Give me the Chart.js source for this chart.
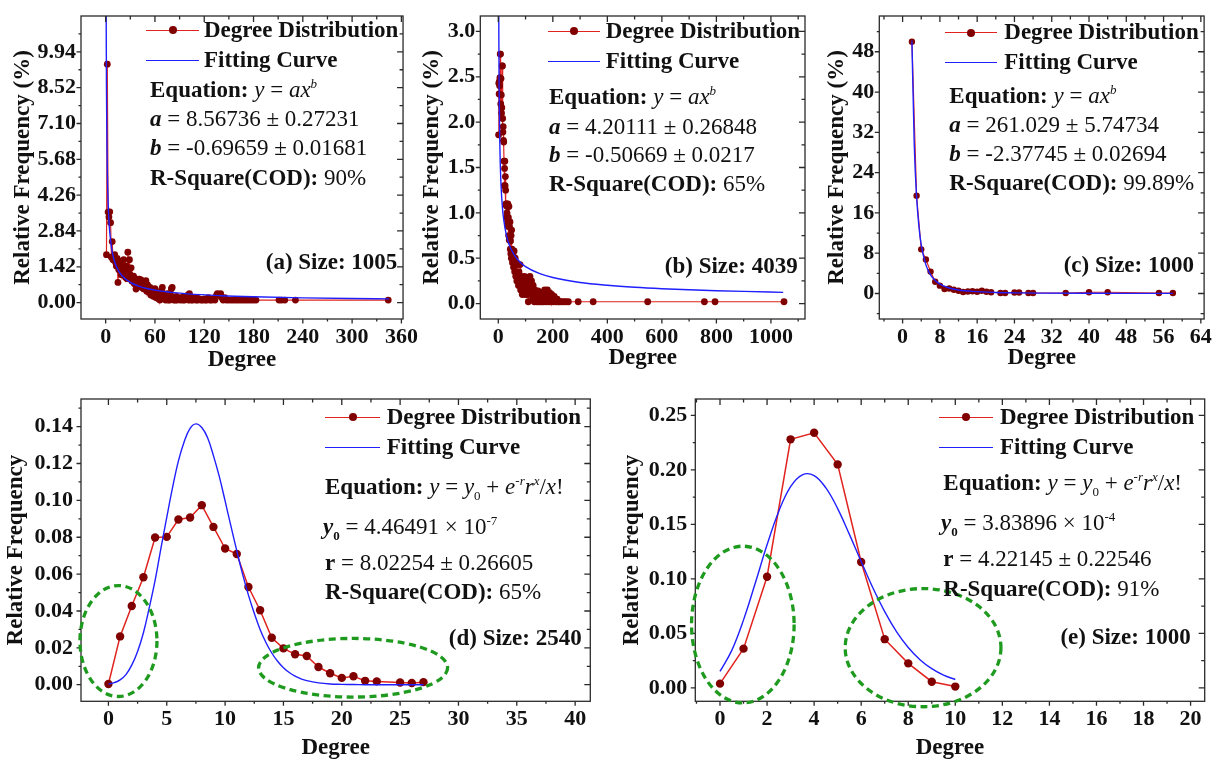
<!DOCTYPE html>
<html>
<head>
<meta charset="utf-8">
<script src="https://cdn.jsdelivr.net/npm/chart.js@4.4.1/dist/chart.umd.min.js"></script>
<style>
  body { margin: 0; background: #fff; width: 1219px; height: 761px; position: relative; overflow: hidden;
         font-family: 'Liberation Serif', 'Times New Roman', serif; color: #111; }
  canvas { position: absolute; }
  .t { position: absolute; font-size: 23px; line-height: 26px; white-space: nowrap; }
  .b { font-weight: bold; }
  .i { font-style: italic; }
  sup, sub { font-size: 13px; line-height: 0; }
  .ln { position: absolute; height: 0; border-top: 1.5px solid; }
  .ln.red { border-color: #e0231e; }
  .ln.blue { border-color: #1f1fff; }
  .ln.red::after { content: ''; position: absolute; left: 50%; top: -4.75px; width: 8px; height: 8px;
                   margin-left: -4px; border-radius: 50%; background: #800000; }
</style>
</head>
<body>
<canvas id="chartA" width="425" height="374" style="left:0;top:0"></canvas>
<canvas id="chartB" width="400" height="374" style="left:410px;top:0"></canvas>
<canvas id="chartC" width="404" height="374" style="left:815px;top:0"></canvas>
<canvas id="chartD" width="605" height="381" style="left:0;top:380px"></canvas>
<canvas id="chartE" width="609" height="381" style="left:610px;top:380px"></canvas>

<!-- (a) -->
<div class="ln red" style="left:146px;top:30px;width:53px"></div>
<div class="t b" style="left:204px;top:17px">Degree Distribution</div>
<div class="ln blue" style="left:146px;top:60px;width:53px"></div>
<div class="t b" style="left:204px;top:47px">Fitting Curve</div>
<div class="t" style="left:150px;top:77px"><span class="b">Equation:</span> <span class="i">y</span> = <span class="i">ax<sup>b</sup></span></div>
<div class="t" style="left:150px;top:106px"><span class="b i">a</span> = 8.56736 ± 0.27231</div>
<div class="t" style="left:150px;top:135px"><span class="b i">b</span> = -0.69659 ± 0.01681</div>
<div class="t" style="left:150px;top:165px"><span class="b">R-Square(COD):</span> 90%</div>
<div class="t b" style="right:821.7px;top:249px">(a) Size: 1005</div>

<!-- (b) -->
<div class="ln red" style="left:548px;top:30.7px;width:52px"></div>
<div class="t b" style="left:605.7px;top:17.7px">Degree Distribution</div>
<div class="ln blue" style="left:548px;top:60.7px;width:52px"></div>
<div class="t b" style="left:605.7px;top:47.7px">Fitting Curve</div>
<div class="t" style="left:549px;top:84.3px"><span class="b">Equation:</span> <span class="i">y</span> = <span class="i">ax<sup>b</sup></span></div>
<div class="t" style="left:549px;top:113.7px"><span class="b i">a</span> = 4.20111 ± 0.26848</div>
<div class="t" style="left:549px;top:142px"><span class="b i">b</span> = -0.50669 ± 0.0217</div>
<div class="t" style="left:549px;top:171.3px"><span class="b">R-Square(COD):</span> 65%</div>
<div class="t b" style="right:421.3px;top:253px">(b) Size: 4039</div>

<!-- (c) -->
<div class="ln red" style="left:945px;top:32.3px;width:52px"></div>
<div class="t b" style="left:1004.3px;top:19.3px">Degree Distribution</div>
<div class="ln blue" style="left:945px;top:61.7px;width:52px"></div>
<div class="t b" style="left:1004.3px;top:48.7px">Fitting Curve</div>
<div class="t" style="left:949.3px;top:82.7px"><span class="b">Equation:</span> <span class="i">y</span> = <span class="i">ax<sup>b</sup></span></div>
<div class="t" style="left:949.3px;top:112px"><span class="b i">a</span> = 261.029 ± 5.74734</div>
<div class="t" style="left:949.3px;top:141px"><span class="b i">b</span> = -2.37745 ± 0.02694</div>
<div class="t" style="left:949.3px;top:170.3px"><span class="b">R-Square(COD):</span> 99.89%</div>
<div class="t b" style="right:25px;top:252px">(c) Size: 1000</div>

<!-- (d) -->
<div class="ln red" style="left:325px;top:416.7px;width:55px"></div>
<div class="t b" style="left:386.7px;top:403.7px">Degree Distribution</div>
<div class="ln blue" style="left:325px;top:446.7px;width:55px"></div>
<div class="t b" style="left:386.7px;top:433.7px">Fitting Curve</div>
<div class="t" style="left:325px;top:473.7px"><span class="b">Equation:</span> <span class="i">y</span> = <span class="i">y</span><sub>0</sub> + <span class="i">e<sup>-r</sup>r<sup>x</sup></span>/<span class="i">x</span>!</div>
<div class="t" style="left:323px;top:513.7px"><span class="b i">y</span><sub class="b">0</sub> = 4.46491 × 10<sup>-7</sup></div>
<div class="t" style="left:325px;top:549.7px"><span class="b">r</span> = 8.02254 ± 0.26605</div>
<div class="t" style="left:325px;top:578.7px"><span class="b">R-Square(COD):</span> 65%</div>
<div class="t b" style="right:637.3px;top:625.3px">(d) Size: 2540</div>

<!-- (e) -->
<div class="ln red" style="left:939px;top:416.7px;width:54px"></div>
<div class="t b" style="left:1000px;top:403.7px">Degree Distribution</div>
<div class="ln blue" style="left:939px;top:446.7px;width:54px"></div>
<div class="t b" style="left:1000px;top:433.7px">Fitting Curve</div>
<div class="t" style="left:943.3px;top:470.3px"><span class="b">Equation:</span> <span class="i">y</span> = <span class="i">y</span><sub>0</sub> + <span class="i">e<sup>-r</sup>r<sup>x</sup></span>/<span class="i">x</span>!</div>
<div class="t" style="left:941px;top:510.3px"><span class="b i">y</span><sub class="b">0</sub> = 3.83896 × 10<sup>-4</sup></div>
<div class="t" style="left:943.3px;top:546.3px"><span class="b">r</span> = 4.22145 ± 0.22546</div>
<div class="t" style="left:943.3px;top:576.3px"><span class="b">R-Square(COD):</span> 91%</div>
<div class="t b" style="right:28.3px;top:624.3px">(e) Size: 1000</div>

<script>
// ---- (a) Size 1005 ----
const aDegree = [1,2,3,4,5,6,7,8,9,10,11,12,13,14,15,16,17,18,19,20,21,22,23,24,25,26,27,28,29,30,
  31,32,33,34,35,36,37,38,39,40,41,42,43,44,45,46,47,48,49,50,51,52,53,54,55,56,57,58,59,60,
  61,62,63,64,65,66,67,68,69,70,71,72,73,74,75,76,77,78,79,80,81,82,83,84,85,86,87,88,90,91,
  92,94,95,96,98,100,101,102,104,105,106,108,110,111,112,114,116,118,120,121,123,125,127,129,131,133,
  135,136,138,140,141,143,145,147,150,153,156,159,162,165,168,171,174,177,180,183,211,214,218,231,344];
const aFreq = [1.90,9.45,3.59,3.39,3.60,3.17,1.80,2.42,1.70,1.85,1.90,1.60,1.45,1.75,0.80,1.30,1.64,1.35,1.10,1.55,
  1.20,1.70,1.25,1.00,1.45,0.95,2.00,1.30,1.70,1.10,1.38,0.85,1.00,1.05,0.75,0.95,0.54,0.85,0.90,0.65,
  0.93,0.75,0.90,0.60,0.85,0.55,0.75,0.62,0.87,0.45,0.70,0.50,0.40,0.60,0.30,0.50,0.40,0.25,0.45,0.55,
  0.20,0.35,0.40,0.15,0.30,0.10,0.25,0.50,0.60,0.15,0.30,0.20,0.10,0.25,0.35,0.10,0.20,0.10,0.30,0.55,
  0.60,0.15,0.10,0.20,0.10,0.25,0.10,0.20,0.15,0.10,0.20,0.10,0.25,0.10,0.15,0.30,0.10,0.35,0.10,0.20,
  0.10,0.15,0.10,0.20,0.10,0.15,0.10,0.10,0.15,0.10,0.10,0.20,0.10,0.10,0.15,0.10,0.30,0.35,0.30,0.35,
  0.20,0.10,0.20,0.10,0.10,0.10,0.10,0.10,0.10,0.10,0.10,0.10,0.10,0.10,0.10,0.10,0.10,0.10,0.10,0.10,0.10];
const aFitX = [0.5,0.7,1,1.5,2,3,4,5,7,10,15,20,30,40,50,70,100,140,180,240,300,345];
const aFitY = [13.9,10.98,8.57,6.46,5.29,3.98,3.26,2.79,2.21,1.72,1.30,1.063,0.80,0.656,0.561,0.444,0.346,0.274,0.230,0.188,0.161,0.146];
const aXTicks = [0,60,120,180,240,300,360];
const aYTicks = [0,1.42,2.84,4.26,5.68,7.10,8.52,9.94];
const aYLabels = ['0.00','1.42','2.84','4.26','5.68','7.10','8.52','9.94'];

// ---- (b) Size 4039 ----
const bDegree = [1,2,3,4,5,6,7,8,9,10,11,12,13,14,15,16,17,18,19,20,21,22,23,24,25,26,27,28,29,30,
  31,32,33,34,35,36,37,38,39,40,41,42,43,44,45,46,47,48,49,50,52,54,56,58,60,62,64,66,68,70,
  72,74,76,78,80,82,84,86,88,90,92,94,96,98,100,102,104,106,108,110,112,114,116,118,120,122,124,126,128,130,
  132,134,136,138,140,142,144,146,148,150,152,154,156,158,160,162,164,166,168,170,172,174,176,178,180,182,184,186,188,190,
  193,196,199,202,205,208,212,216,220,225,232,240,248,257,293,348,548,756,795,1048];
const bFreq = [1.86,2.43,2.31,2.45,2.40,2.49,2.75,2.75,2.20,2.48,2.30,2.10,2.16,2.62,2.62,2.04,1.89,1.95,1.80,1.78,
  1.57,1.30,1.49,1.57,1.30,1.40,1.25,1.10,1.08,0.95,1.10,1.00,1.07,0.90,1.10,0.85,0.95,0.75,1.07,0.70,
  0.85,0.72,0.90,0.60,0.69,0.55,0.75,0.50,0.81,0.60,0.45,0.55,0.40,0.58,0.35,0.50,0.30,0.45,0.25,0.43,
  0.30,0.20,0.35,0.25,0.43,0.15,0.30,0.20,0.10,0.25,0.15,0.22,0.30,0.10,0.20,0.25,0.15,0.10,0.20,0.02,
  0.15,0.29,0.30,0.20,0.10,0.25,0.15,0.05,0.20,0.10,0.02,0.15,0.08,0.12,0.02,0.10,0.05,0.14,0.02,0.08,
  0.12,0.02,0.10,0.05,0.02,0.12,0.06,0.02,0.10,0.15,0.05,0.12,0.02,0.08,0.15,0.05,0.10,0.02,0.12,0.06,
  0.02,0.10,0.05,0.02,0.08,0.05,0.02,0.05,0.02,0.02,0.02,0.02,0.02,0.02,0.02,0.02,0.02,0.02,0.02,0.02];
const bFitX = [1.5,2,3,5,7,10,15,20,30,40,60,80,100,150,200,300,400,500,600,700,800,900,1045];
const bFitY = [3.42,2.957,2.407,1.859,1.567,1.308,1.065,0.921,0.750,0.648,0.528,0.456,0.407,0.332,0.287,0.233,0.202,0.180,0.164,0.152,0.142,0.134,0.124];
const bXTicks = [0,200,400,600,800,1000];
const bYTicks = [0,0.5,1.0,1.5,2.0,2.5,3.0];
const bYLabels = ['0.0','0.5','1.0','1.5','2.0','2.5','3.0'];

// ---- (c) Size 1000 ----
const cDegree = [2,3,4,5,6,7,8,9,10,11,12,13,14,15,16,17,18,19,21,22,24,25,27,28,35,40,44,55,58];
const cFreq = [50.0,19.4,8.77,6.75,4.35,2.34,1.56,0.90,1.00,0.75,0.55,0.30,0.40,0.45,0.35,0.55,0.35,0.25,
  0.10,0.10,0.20,0.20,0.10,0.10,0.10,0.25,0.25,0.10,0.10];
const cFitX = [2,2.5,3,3.5,4,5,6,7,8,10,12,15,20,25,30,40,50,58];
const cFitY = [50.2,29.6,19.2,13.3,9.67,5.69,3.69,2.56,1.86,1.10,0.71,0.42,0.21,0.12,0.08,0.04,0.02,0.02];
const cXTicks = [0,8,16,24,32,40,48,56,64];
const cYTicks = [0,8,16,24,32,40,48];
const cYLabels = ['0','8','16','24','32','40','48'];

// ---- (d) Size 2540 ----
const dDegree = [0,1,2,3,4,5,6,7,8,9,10,11,12,13,14,15,16,17,18,19,20,21,22,23,25,26,27];
const dFreq = [0.0004,0.0262,0.0427,0.0583,0.0799,0.0802,0.0896,0.0907,0.0974,0.0856,0.0739,0.0709,0.0530,
  0.0404,0.0255,0.0197,0.0165,0.0156,0.0096,0.0062,0.0037,0.0046,0.0021,0.0018,0.0012,0.0009,0.0014];
const dFitX = [0,0.5,1,1.5,2,2.5,3,3.5,4,4.5,5,5.5,6,6.5,7,7.5,8,8.5,9,9.5,10,10.5,11,11.5,12,12.5,13,13.5,
  14,14.5,15,15.5,16,16.5,17,18,19,20,21,22,23,24,25,26,27];
const dFitY = [0.0003,0.0011,0.0026,0.0055,0.0106,0.0180,0.0282,0.0418,0.0566,0.0740,0.0908,0.1070,0.1214,0.1320,
  0.1391,0.1415,0.1395,0.1340,0.1243,0.1130,0.0997,0.0860,0.0727,0.0600,0.0486,0.0388,0.0300,0.0229,
  0.0172,0.0127,0.0092,0.0066,0.0046,0.0032,0.0022,0.0010,0.0004,0.0002,0.0001,0,0,0,0,0,0];
const dXTicks = [0,5,10,15,20,25,30,35,40];
const dYTicks = [0,0.02,0.04,0.06,0.08,0.10,0.12,0.14];
const dYLabels = ['0.00','0.02','0.04','0.06','0.08','0.10','0.12','0.14'];

// ---- (e) Size 1000 ----
const eDegree = [0,1,2,3,4,5,6,7,8,9,10];
const eFreq = [0.0039,0.036,0.102,0.228,0.234,0.205,0.1155,0.0447,0.0225,0.0057,0.0012];
const eFitX = [0,0.5,1,1.5,2,2.5,3,3.5,4,4.5,5,5.5,6,6.5,7,7.5,8,8.5,9,9.5,10];
const eFitY = [0.0151,0.0344,0.0624,0.0962,0.1313,0.1621,0.1846,0.1955,0.1948,0.1834,0.1645,0.1408,0.1159,
  0.0916,0.0700,0.0517,0.0371,0.0259,0.0176,0.0117,0.0077];
const eXTicks = [0,2,4,6,8,10,12,14,16,18,20];
const eYTicks = [0,0.05,0.10,0.15,0.20,0.25];
const eYLabels = ['0.00','0.05','0.10','0.15','0.20','0.25'];

// dashed green ellipses, in data units
const dEllipses = [{ cx: 0.86, cy: 0.0237, rx: 3.3, ry: 0.0301 }, { cx: 20.97, cy: 0.0092, rx: 8.1, ry: 0.0159 }];
const eEllipses = [{ cx: 0.97, cy: 0.0581, rx: 2.18, ry: 0.0719 }, { cx: 8.63, cy: 0.0369, rx: 3.31, ry: 0.0542 }];

const FONT = "'Liberation Serif', 'Times New Roman', serif";

// frame box, major/minor ticks on all four sides, ellipses
const frameTicks = {
  id: 'frameTicks',
  afterDraw(chart, args, opts) {
    const { ctx, chartArea: ca, scales: { x, y } } = chart;
    ctx.save();
    ctx.strokeStyle = '#2a2a2a';
    ctx.lineWidth = 1.3;
    ctx.strokeRect(ca.left, ca.top, ca.right - ca.left, ca.bottom - ca.top);

    const marks = (scale, ticks) => {
      const half = (ticks[1] - ticks[0]) / 2;
      const out = [];
      const k0 = Math.ceil(scale.min / half - 1e-6), k1 = Math.floor(scale.max / half + 1e-6);
      for (let k = k0; k <= k1; k++) out.push({ px: scale.getPixelForValue(k * half), major: k % 2 === 0 });
      return out;
    };
    ctx.beginPath();
    marks(x, opts.xTicks).forEach(m => {
      if (m.px < ca.left + 1 || m.px > ca.right - 1) return;
      const o = m.major ? 4.5 : 2.5, inn = m.major ? 6 : 3.5;
      ctx.moveTo(m.px, ca.bottom); ctx.lineTo(m.px, ca.bottom + o);
      ctx.moveTo(m.px, ca.top); ctx.lineTo(m.px, ca.top + inn);
    });
    marks(y, opts.yTicks).forEach(m => {
      if (m.px < ca.top + 1 || m.px > ca.bottom - 1) return;
      const o = m.major ? 4.5 : 2.5, inn = m.major ? 6 : 3.5;
      ctx.moveTo(ca.left, m.px); ctx.lineTo(ca.left - o, m.px);
      ctx.moveTo(ca.right, m.px); ctx.lineTo(ca.right - inn, m.px);
    });
    ctx.stroke();

    (opts.ellipses || []).forEach(e => {
      const cx = x.getPixelForValue(e.cx), cy = y.getPixelForValue(e.cy);
      const rx = Math.abs(x.getPixelForValue(e.cx + e.rx) - cx);
      const ry = Math.abs(y.getPixelForValue(e.cy + e.ry) - cy);
      ctx.beginPath();
      ctx.setLineDash([7, 4.5]);
      ctx.lineWidth = 3.3;
      ctx.strokeStyle = '#1e9a1e';
      ctx.ellipse(cx, cy, rx, ry, 0, 0, Math.PI * 2);
      ctx.stroke();
    });
    ctx.restore();
  }
};

function buildChart(id, o) {
  const pts = (xs, ys) => xs.map((v, i) => ({ x: v, y: ys[i] }));
  const fit = {
    data: pts(o.fitX, o.fitY),
    showLine: true,
    borderColor: '#1f1fff',
    borderWidth: 1.4,
    pointRadius: 0
  };
  // power-law fits keep monotone; the bell-shaped fits use a plain spline so the peak stays round
  if (o.bell) fit.tension = 0.4; else fit.cubicInterpolationMode = 'monotone';
  return new Chart(document.getElementById(id), {
    type: 'scatter',
    data: {
      datasets: [
        fit,
        {
          data: pts(o.degree, o.freq),
          showLine: true,
          borderColor: '#e0231e',
          borderWidth: o.lineW,
          pointRadius: o.dotR,
          pointBackgroundColor: '#800000',
          pointBorderWidth: 0
        }
      ]
    },
    options: {
      responsive: false,
      animation: false,
      layout: { padding: { left: 0, top: o.padTop, right: o.padRight, bottom: 0 } },
      plugins: {
        legend: { display: false },
        tooltip: { enabled: false },
        frameTicks: { xTicks: o.xTicks, yTicks: o.yTicks, ellipses: o.ellipses }
      },
      scales: {
        x: {
          type: 'linear',
          min: o.xMin,
          max: o.xMax,
          afterBuildTicks: s => { s.ticks = o.xTicks.map(v => ({ value: v })); },
          afterFit: s => { s.height = o.xH; },
          ticks: {
            autoSkip: false, maxRotation: 0, padding: 7, color: '#111',
            font: { family: FONT, size: 22, weight: 'bold', lineHeight: 1 },
            callback: v => String(v)
          },
          grid: { display: false, drawTicks: false },
          border: { display: false },
          title: {
            display: true, text: 'Degree', color: '#111',
            font: { family: FONT, size: 23, weight: 'bold', lineHeight: 1 },
            padding: { top: 0, bottom: o.xTitlePad }
          }
        },
        y: {
          type: 'linear',
          min: o.yMin,
          max: o.yMax,
          afterBuildTicks: s => { s.ticks = o.yTicks.map(v => ({ value: v })); },
          afterFit: s => { s.width = o.yW; },
          ticks: {
            autoSkip: false, padding: o.yLabelPad, color: '#111',
            font: { family: FONT, size: 22, weight: 'bold', lineHeight: 1 },
            callback: (v, i) => o.yLabels[i]
          },
          grid: { display: false, drawTicks: false },
          border: { display: false },
          title: {
            display: true, text: o.yTitle, color: '#111',
            font: { family: FONT, size: 23, weight: 'bold', lineHeight: 1 },
            padding: { top: o.yTitlePad, bottom: 0 }
          }
        }
      }
    },
    plugins: [frameTicks]
  });
}

buildChart('chartA', {
  degree: aDegree, freq: aFreq, fitX: aFitX, fitY: aFitY,
  xTicks: aXTicks, yTicks: aYTicks, yLabels: aYLabels,
  xMin: -30, xMax: 362, yMin: -0.65, yMax: 11.36,
  yW: 81, xH: 55, padTop: 10, padRight: 19.5, xTitlePad: 2.5, yTitlePad: 11.8, yLabelPad: 5,
  yTitle: 'Relative Frequency (%)', dotR: 3.4, lineW: 1.2
});
buildChart('chartB', {
  degree: bDegree, freq: bFreq, fitX: bFitX, fitY: bFitY,
  xTicks: bXTicks, yTicks: bYTicks, yLabels: bYLabels,
  xMin: -66, xMax: 1125, yMin: -0.17, yMax: 3.17,
  yW: 70.3, xH: 55, padTop: 10, padRight: 5, xTitlePad: 4.2, yTitlePad: 10.8, yLabelPad: 5,
  yTitle: 'Relative Frequency (%)', dotR: 3.4, lineW: 1.2
});
buildChart('chartC', {
  degree: cDegree, freq: cFreq, fitX: cFitX, fitY: cFitY,
  xTicks: cXTicks, yTicks: cYTicks, yLabels: cYLabels,
  xMin: -5, xMax: 64.7, yMin: -5.06, yMax: 55.1,
  yW: 64.3, xH: 55, padTop: 10, padRight: 14.7, xTitlePad: 4.2, yTitlePad: 10.8, yLabelPad: 5,
  yTitle: 'Relative Frequency (%)', dotR: 3.2, lineW: 1.2
});
buildChart('chartD', {
  degree: dDegree, freq: dFreq, fitX: dFitX, fitY: dFitY, bell: true,
  xTicks: dXTicks, yTicks: dYTicks, yLabels: dYLabels, ellipses: dEllipses,
  xMin: -2.35, xMax: 41.3, yMin: -0.009, yMax: 0.155,
  yW: 81, xH: 59.7, padTop: 12.7, padRight: 14.7, xTitlePad: 1.2, yTitlePad: 4.5, yLabelPad: 8,
  yTitle: 'Relative Frequency', dotR: 4.2, lineW: 1.5
});
buildChart('chartE', {
  degree: eDegree, freq: eFreq, fitX: eFitX, fitY: eFitY, bell: true,
  xTicks: eXTicks, yTicks: eYTicks, yLabels: eYLabels, ellipses: eEllipses,
  xMin: -1.05, xMax: 20.6, yMin: -0.0123, yMax: 0.265,
  yW: 85.3, xH: 59.7, padTop: 12.7, padRight: 14.3, xTitlePad: 1.2, yTitlePad: 10.2, yLabelPad: 8,
  yTitle: 'Relative Frequency', dotR: 4.2, lineW: 1.5
});
</script>
</body>
</html>
